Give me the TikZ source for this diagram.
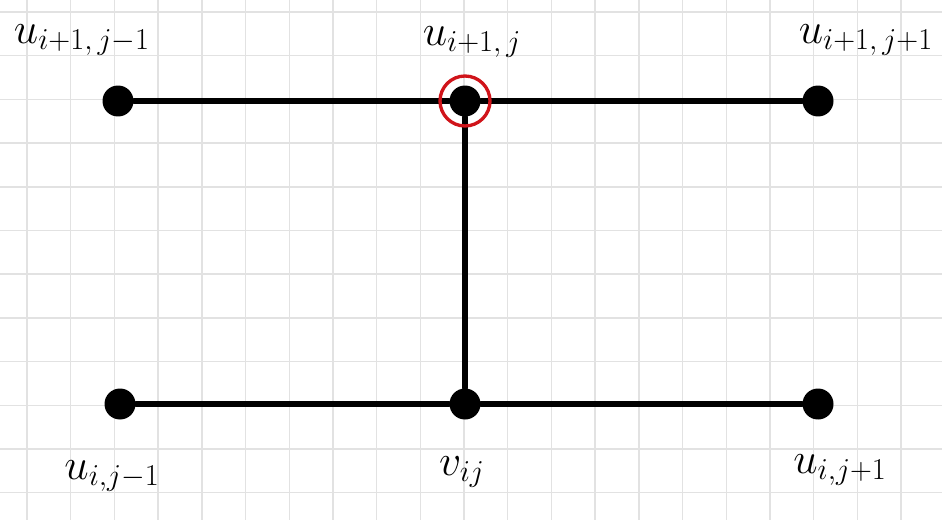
\documentclass[tikz,border=0pt]{standalone}
\usepackage{amsmath}
\usepackage{xcolor}
\usetikzlibrary{calc}
\definecolor{gridgray}{HTML}{E2E2E2}
\definecolor{penred}{HTML}{D0141A}
\tikzset{
  dot/.style   = {circle, fill = black, inner sep = 0pt, minimum size = 0.62cm},
  stroke/.style= {line width = 2.9pt, line cap = round},
  lbl/.style   = {inner sep = 0pt, font = \fontsize{26}{28}\selectfont}
}

\begin{document}
\begin{tikzpicture}[x = 0.02cm, y = -0.02cm]
\useasboundingbox (0,0) rectangle (942,520);
% grid paper
\foreach \k in {0,...,21}
  \draw[gridgray, line width = 0.8pt] ({27+43.7*\k},0) -- ({27+43.7*\k},520);
\foreach \k in {0,...,11}
  \draw[gridgray, line width = 0.8pt] (0,{12+43.7*\k}) -- (942,{12+43.7*\k});
% grid points
\node[dot] (uTL) at (118,101) {};
\node[dot] (uTM) at (465,101) {};
\node[dot] (uTR) at (818,101) {};
\node[dot] (uBL) at (120,404) {};
\node[dot] (vBM) at (465,404) {};
\node[dot] (uBR) at (818,404) {};
% stencil
\draw[stroke] (uTL) -- (uTM);
\draw[stroke] (uTM) -- (uTR);
\draw[stroke] (uBL) -- (vBM);
\draw[stroke] (vBM) -- (uBR);
\draw[stroke] (uTM) -- (vBM);
\draw[penred, line width = 1.9pt] (uTM) circle (0.5cm);
% labels
\node[lbl] (lTL) at (82,40)   {$u_{i+1,\,j-1}$};
\node[lbl] (lTM) at (472,42)  {$u_{i+1,\,j}$};
\node[lbl] (lTR) at (866,40)  {$u_{i+1,\,j+1}$};
\node[lbl] (lBL) at (112,476) {$u_{i,j-1}$};
\node[lbl] (lBM) at (462,472) {$v_{ij}$};
\node[lbl] (lBR) at (840,470) {$u_{i,j+1}$};
\end{tikzpicture}
\end{document}
